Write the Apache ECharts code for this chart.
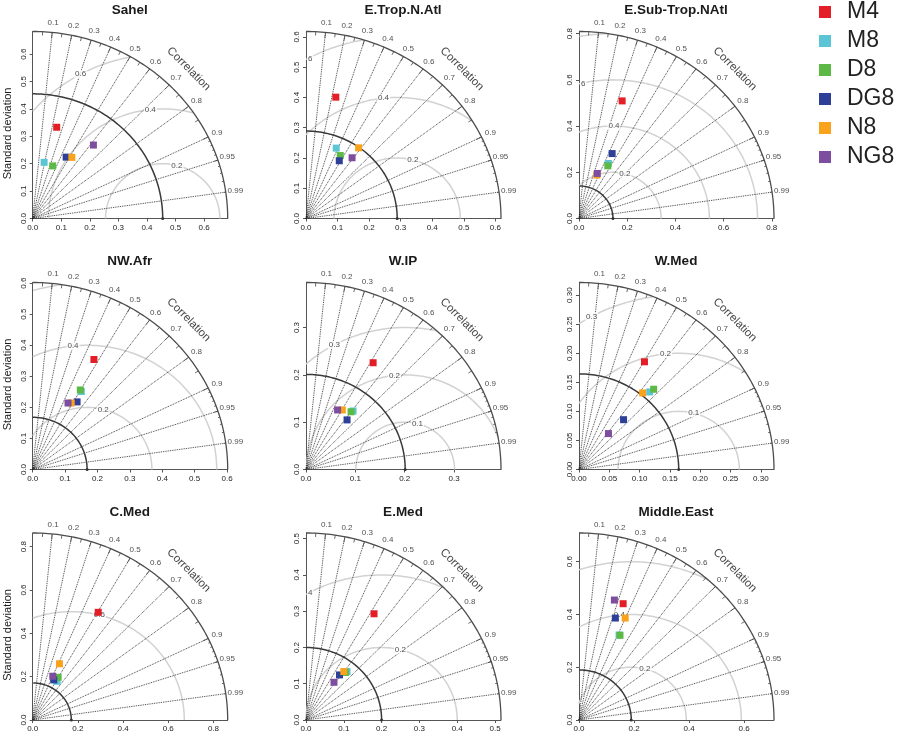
<!DOCTYPE html>
<html><head><meta charset="utf-8">
<script src="https://cdn.jsdelivr.net/npm/echarts@6/dist/echarts.min.js"></script>
<style>html,body{margin:0;padding:0;background:#fff}#c{width:909px;height:739px}</style>
</head><body><div id="c"></div><script>
// ---------- data ----------
const regions = ['Sahel','E.Trop.N.Atl','E.Sub-Trop.NAtl','NW.Afr','W.IP','W.Med','C.Med','E.Med','Middle.East'];
const models = ['M4','M8','D8','DG8','N8','NG8'];
const refSD = [0.455, 0.289, 0.141, 0.168, 0.201, 0.1645, 0.171, 0.2, 0.19];
const sdTicks = [
  [0,0.1,0.2,0.3,0.4,0.5,0.6],
  [0,0.1,0.2,0.3,0.4,0.5,0.6],
  [0,0.2,0.4,0.6,0.8],
  [0,0.1,0.2,0.3,0.4,0.5,0.6],
  [0,0.1,0.2,0.3],
  [0,0.05,0.1,0.15,0.2,0.25,0.3],
  [0,0.2,0.4,0.6,0.8],
  [0,0.1,0.2,0.3,0.4,0.5],
  [0,0.2,0.4,0.6]
];
const rmsLevels = [
  [0.2,0.4,0.6],[0.2,0.4,0.6],[0.2,0.4,0.6,0.8],
  [0.2,0.4,0.6],[0.1,0.2,0.3],[0.1,0.2,0.3],
  [0.5],[0.2,0.4],[0.2,0.4,0.6]
];
const corrTicks = [0.1,0.2,0.3,0.4,0.5,0.6,0.7,0.8,0.9,0.95,0.99];
const corrMedTicks = [0.05,0.15,0.25,0.35,0.45,0.55,0.65,0.75,0.85,0.95];
const corrSmallTicks = [0.91,0.92,0.93,0.94,0.95,0.96,0.97,0.98,0.99];
// model points: x = sd*cor, y = sd*sqrt(1-cor^2), one value per region
const M4_x  = [0.084, 0.0945, 0.179, 0.189, 0.136, 0.108, 0.29, 0.18, 0.1604];
const M4_y  = [0.333, 0.401, 0.509, 0.354, 0.2256, 0.1853, 0.497, 0.293, 0.4408];
const M8_x  = [0.040, 0.0957, 0.122, 0.150, 0.0954, 0.1166, 0.108, 0.1085, 0.1457];
const M8_y  = [0.205, 0.2326, 0.238, 0.251, 0.1236, 0.1334, 0.1786, 0.1336, 0.3221];
const D8_x  = [0.070, 0.1086, 0.1195, 0.147, 0.0913, 0.1232, 0.1126, 0.104, 0.149];
const D8_y  = [0.192, 0.208, 0.228, 0.256, 0.122, 0.1381, 0.197, 0.131, 0.321];
const DG8_x = [0.117, 0.1054, 0.1375, 0.137, 0.0832, 0.0735, 0.0933, 0.0886, 0.1322];
const DG8_y = [0.224, 0.1908, 0.281, 0.2176, 0.1048, 0.0857, 0.185, 0.1243, 0.3865];
const N8_x  = [0.137, 0.1667, 0.074, 0.119, 0.0736, 0.105, 0.1185, 0.1, 0.1678];
const N8_y  = [0.223, 0.2336, 0.188, 0.214, 0.1258, 0.1317, 0.2594, 0.1336, 0.3865];
const NG8_x = [0.2125, 0.146, 0.076, 0.109, 0.064, 0.0486, 0.0889, 0.074, 0.1286];
const NG8_y = [0.268, 0.2007, 0.195, 0.214, 0.1258, 0.0618, 0.202, 0.104, 0.4547];

// ---------- style / layout ----------
const modelX = [M4_x, M8_x, D8_x, DG8_x, N8_x, NG8_x];
const modelY = [M4_y, M8_y, D8_y, DG8_y, N8_y, NG8_y];
const modelColors = ['#E41E26','#5BC5D5','#5CB946','#2E3F98','#F9A21B','#7D4E9F'];
const drawOrder = [0,2,1,3,4,5];
const COLS = [32.7, 306, 579], ROWS = [218.5, 469.5, 720], RX = 195, RY = 187;
const FONT = '"Liberation Sans", Arial, sans-serif';

const grids = [], xAxes = [], yAxes = [], series = [], graphics = [];

function sample(cx, r, t0, t1, n) {
  const pts = [];
  for (let i = 0; i <= n; i++) {
    const t = t0 + (t1 - t0) * i / n;
    pts.push([cx + r * Math.cos(t), r * Math.sin(t)]);
  }
  return pts;
}
function lineSeries(p, data, color, width, z, type) {
  return {type:'line', xAxisIndex:p, yAxisIndex:p, data, showSymbol:false, symbol:'none', silent:true,
    clip:false, animation:false, z, lineStyle:{color, width, type: type || 'solid'}};
}

regions.forEach((name, p) => {
  const ox = COLS[p % 3], oy = ROWS[Math.floor(p / 3)];
  const ref = refSD[p];
  let m = ref;
  models.forEach((_, k) => { m = Math.max(m, Math.hypot(modelX[k][p], modelY[k][p])); });
  const maxsd = 1.5 * m;
  grids.push({left: ox, top: oy - RY, width: RX, height: RY});
  const ticks = sdTicks[p];
  const dec = (ticks[1] - ticks[0]) < 0.09 ? 2 : 1;
  const mk = (isY) => ({
    type:'value', gridIndex:p, min:0, max:maxsd, splitLine:{show:false},
    axisLine:{show:true, onZero:false, lineStyle:{color:'#555', width:1}},
    axisTick:{show:true, length:3, customValues:ticks, lineStyle:{color:'#555'}},
    axisLabel:{customValues:ticks, fontSize:8, color:'#222', fontFamily:FONT, margin:5,
      rotate: isY ? 90 : 0, formatter: v => Number(v).toFixed(dec)}
  });
  xAxes.push(mk(false));
  yAxes.push(mk(true));

  // RMS (gamma) circles
  const rmsLabels = [];
  const n = rmsLevels[p].length;
  rmsLevels[p].forEach((g, i) => {
    let c0 = (maxsd * maxsd - ref * ref - g * g) / (2 * ref * g);
    const t0 = c0 >= 1 ? 0 : Math.acos(Math.max(-1, c0));
    const c1 = -ref / g;
    const t1 = c1 <= -1 ? Math.PI : Math.acos(c1);
    if (t1 > t0) series.push(lineSeries(p, sample(ref, g, t0, t1, 300), '#d2d2d2', 1.5, 1));
    const pos = n === 1 ? 45 : 45 + 25 * i / (n - 1);
    const a = (Math.floor(pos + 1e-9) - 1) * 0.03;
    const lx = ref + g * Math.cos(a), ly = g * Math.sin(a);
    if (lx > 0 && lx * lx + ly * ly < maxsd * maxsd) {
      const txt = String(g);
      const cxpx = lx / maxsd * RX;
      if (cxpx < 6) {
        rmsLabels.push({value:[0, ly], label:{formatter: txt.slice(-1), align:'left', offset:[1,0]}});
      } else {
        rmsLabels.push({value:[lx, ly], label:{formatter: txt}});
      }
    }
  });
  series.push({type:'scatter', xAxisIndex:p, yAxisIndex:p, silent:true, clip:false, animation:false, z:4,
    symbolSize:1, itemStyle:{color:'rgba(0,0,0,0)'}, data:rmsLabels,
    label:{show:true, position:'inside', fontSize:8, color:'#222', fontFamily:FONT,
      backgroundColor:'#fff', padding:[0,1]}});

  // correlation dotted rays
  series.push({type:'lines', coordinateSystem:'cartesian2d', xAxisIndex:p, yAxisIndex:p, silent:true,
    animation:false, z:3, lineStyle:{color:'#2a2a2a', width:0.9, type:'dotted', opacity:1},
    data: corrTicks.map(c => ({coords:[[0,0],[c * maxsd, Math.sqrt(1 - c * c) * maxsd]]}))});
  // tick marks on outer arc
  const tk = (list, f) => list.map(c => ({coords:[[c * maxsd, Math.sqrt(1 - c * c) * maxsd],
    [c * maxsd * f, Math.sqrt(1 - c * c) * maxsd * f]]}));
  series.push({type:'lines', coordinateSystem:'cartesian2d', xAxisIndex:p, yAxisIndex:p, silent:true,
    animation:false, z:3, lineStyle:{color:'#444', width:0.8, opacity:1},
    data: tk(corrTicks.slice(0, 9), 0.97).concat(tk(corrMedTicks, 0.98), tk(corrSmallTicks, 0.99))});

  // outer arc and reference arc
  series.push(lineSeries(p, sample(0, maxsd, 0, Math.PI / 2, 200), '#4d4d4d', 1.3, 5));
  series.push(lineSeries(p, sample(0, ref, 0, Math.PI / 2, 200), '#3a3a3a', 1.5, 5));
  series.push({type:'scatter', xAxisIndex:p, yAxisIndex:p, silent:true, clip:false, animation:false, z:6,
    symbol:'circle', symbolSize:3, itemStyle:{color:'#333', opacity:1}, data:[[ref, 0]]});

  // correlation labels + title word
  series.push({type:'scatter', xAxisIndex:p, yAxisIndex:p, silent:true, clip:false, animation:false, z:4,
    symbolSize:1, itemStyle:{color:'rgba(0,0,0,0)'},
    label:{show:true, position:'inside', formatter:'{b}', fontSize:8, color:'#222', fontFamily:FONT},
    data: corrTicks.map(c => ({name:String(c), value:[c * 1.05 * maxsd, Math.sqrt(1 - c * c) * 1.05 * maxsd]}))});
  series.push({type:'scatter', xAxisIndex:p, yAxisIndex:p, silent:true, clip:false, animation:false, z:4,
    symbolSize:1, itemStyle:{color:'rgba(0,0,0,0)'},
    label:{show:true, position:'inside', formatter:'Correlation', rotate:-45, fontSize:11.5, color:'#111', fontFamily:FONT},
    data:[[0.8 * maxsd, 0.8 * maxsd]]});

  // model points
  drawOrder.forEach(k => {
    series.push({type:'scatter', name:models[k], xAxisIndex:p, yAxisIndex:p, animation:false, z:10 + k,
      symbol:'rect', symbolSize:7, itemStyle:{color:modelColors[k], opacity:1},
      data:[[modelX[k][p], modelY[k][p]]]});
  });

  graphics.push({type:'text', x: ox + 97, y: oy - 208, z:100,
    style:{text:name, font:'bold 13.5px ' + FONT, fill:'#1a1a1a', textAlign:'center', align:'center',
      textVerticalAlign:'middle', verticalAlign:'middle'}});
  if (p % 3 === 0) {
    graphics.push({type:'text', x: 7.5, y: oy - 85, rotation: Math.PI / 2, z:100,
      style:{text:'Standard deviation', font:'11px ' + FONT, fill:'#1a1a1a', textAlign:'center', align:'center',
        textVerticalAlign:'middle', verticalAlign:'middle'}});
  }
});

const chart = echarts.init(document.getElementById('c'));
chart.setOption({
  animation:false,
  backgroundColor:'#fff',
  grid: grids, xAxis: xAxes, yAxis: yAxes, series, graphic: graphics,
  legend: {orient:'vertical', left:819, top:0, padding:0, itemWidth:12, itemHeight:12, itemGap:5, icon:'rect',
    data: models, selectedMode:false, itemStyle:{opacity:1},
    textStyle:{fontSize:23, color:'#222', fontFamily:FONT, lineHeight:24, padding:[0,0,0,11]}}
});
</script></body></html>
